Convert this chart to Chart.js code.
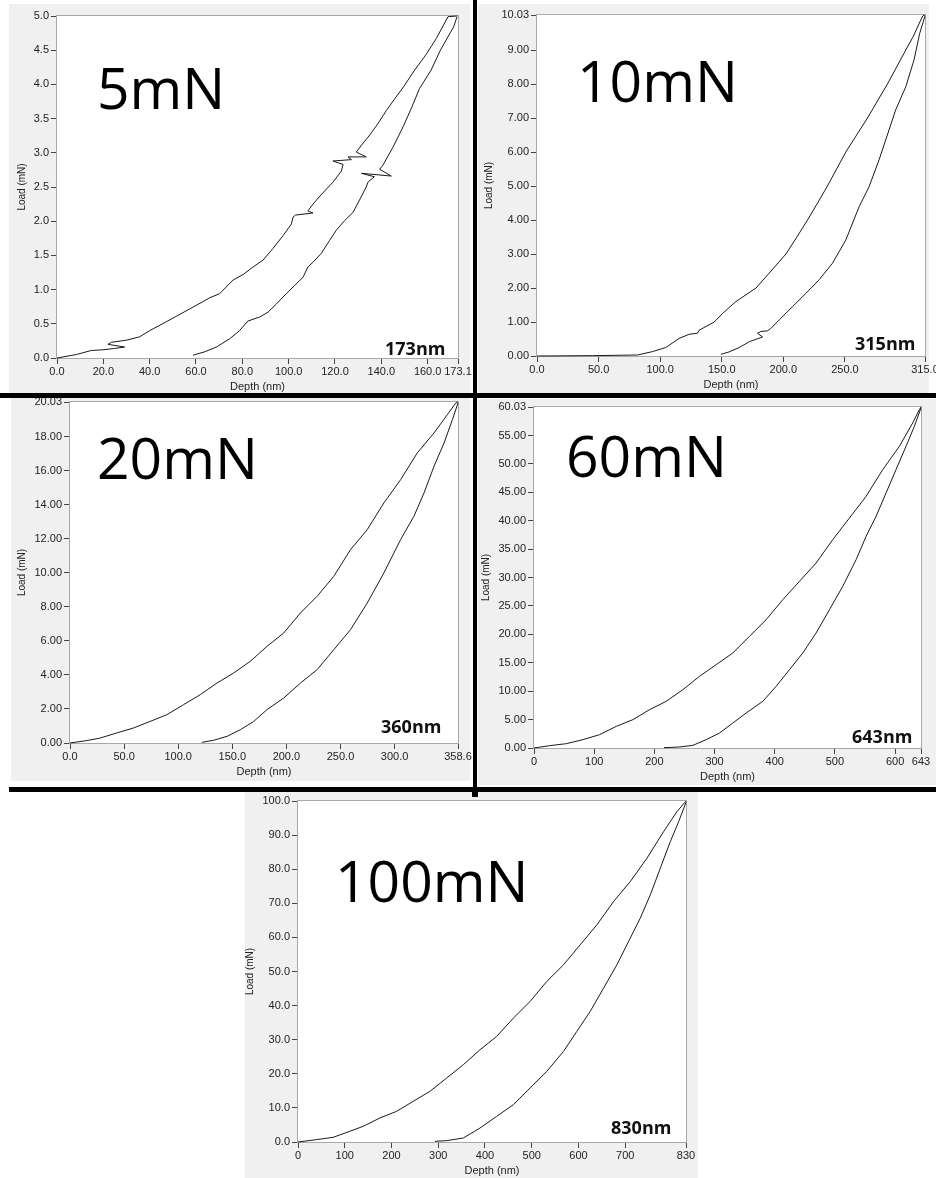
<!DOCTYPE html>
<html>
<head>
<meta charset="utf-8">
<script src="https://cdn.jsdelivr.net/npm/chart.js@4.4.0/dist/chart.umd.min.js"></script>
<style>
body{margin:0;background:#fff;}
#page{position:relative;width:936px;height:1178px;overflow:hidden;}
.panel{position:absolute;background:#f0f0f0;z-index:1;}
.bar{position:absolute;background:#000;z-index:5;}
canvas{position:absolute;z-index:2;}
.big{position:absolute;z-index:3;font-family:'Open Sans';font-size:57px;line-height:57px;color:#000;white-space:nowrap;}
.nm{position:absolute;z-index:3;font-family:'Open Sans';font-weight:bold;font-size:18px;line-height:18px;color:#111;white-space:nowrap;}
</style>
</head>
<body>
<div id="page"></div>
<script>
// ---- data (depth nm, load mN) ----
var depthTicks5 = [0,20,40,60,80,100,120,140,160,173.1];
var loadTicks5 = [0,0.5,1,1.5,2,2.5,3,3.5,4,4.5,5];
var loading5 = [[0,0],[8.3,0.05],[14.8,0.11],[19.9,0.12],[24.9,0.14],[29.2,0.16],[22.0,0.20],[23.5,0.23],[29.9,0.26],[35.7,0.31],[40.0,0.40],[47.2,0.53],[51.5,0.61],[60.1,0.77],[65.9,0.88],[70.2,0.94],[76.0,1.14],[80.3,1.22],[84.6,1.33],[88.9,1.43],[93.2,1.60],[97.6,1.79],[101.2,1.96],[101.9,2.06],[103.0,2.09],[110.5,2.12],[108.3,2.15],[110.5,2.25],[114.1,2.39],[119.1,2.57],[122.7,2.73],[123.5,2.83],[119.1,2.88],[127.1,2.90],[125.6,2.94],[133.5,2.94],[129.2,3.01],[131.4,3.11],[135.0,3.26],[138.6,3.43],[142.2,3.62],[145.8,3.79],[149.5,3.96],[154.4,4.21],[159.4,4.44],[163.7,4.67],[168.8,4.99],[172.7,5.0]];
var unloading5 = [[172.7,4.99],[171.2,4.84],[169.5,4.74],[165.5,4.50],[161.5,4.21],[156.5,3.94],[153.2,3.67],[149.4,3.38],[145.0,3.08],[140.7,2.82],[139.3,2.76],[144.3,2.66],[131.4,2.70],[137.0,2.65],[134.2,2.57],[133.5,2.50],[130.6,2.31],[127.8,2.13],[124.2,2.01],[120.6,1.87],[117.7,1.72],[114.1,1.53],[110.5,1.40],[108.3,1.33],[106.2,1.18],[102.6,1.06],[99.0,0.94],[94.7,0.79],[91.1,0.67],[87.5,0.60],[82.4,0.54],[78.8,0.40],[74.5,0.28],[68.8,0.16],[63.7,0.09],[58.7,0.04]];

var depthTicks10 = [0,50,100,150,200,250,315];
var loadTicks10 = [0,1,2,3,4,5,6,7,8,9,10.03];
var loading10 = [[0,0],[45,0.01],[81.7,0.03],[93.8,0.13],[104.6,0.25],[115.5,0.52],[123.6,0.64],[130.3,0.67],[131.7,0.76],[143.9,1.0],[150.6,1.25],[161.4,1.60],[177.8,2.0],[190.0,2.5],[202.1,3.0],[211.0,3.5],[219.6,4.0],[227.8,4.5],[235.8,5.0],[250.7,6.0],[268.3,7.0],[284.5,8.0],[299.4,9.0],[305.5,9.4],[311.5,9.88],[313.4,10.01],[315,10.03]];
var unloading10 = [[315,10.0],[310.7,9.49],[306.1,8.71],[299.4,7.92],[291.2,7.24],[285.8,6.65],[277.7,5.77],[269.6,4.98],[261.5,4.39],[250.7,3.41],[239.9,2.73],[229.0,2.24],[218.2,1.84],[207.4,1.45],[196.6,1.06],[189.8,0.81],[187.1,0.74],[181.7,0.72],[179.0,0.67],[183.1,0.56],[177.7,0.49],[172.3,0.42],[164.2,0.25],[156.0,0.12],[149.3,0.05]];

var depthTicks20 = [0,50,100,150,200,250,300,358.6];
var loadTicks20 = [0,2,4,6,8,10,12,14,16,18,20.03];
var loading20 = [[0,0],[15.4,0.14],[27.8,0.29],[43.2,0.59],[58.6,0.88],[74.1,1.27],[89.5,1.66],[104.9,2.25],[120.4,2.84],[135.8,3.52],[151.2,4.11],[166.7,4.80],[182.1,5.68],[197.5,6.46],[213.0,7.64],[228.4,8.62],[243.8,9.79],[259.3,11.36],[274.7,12.53],[290.1,14.10],[305.6,15.47],[321.0,17.04],[336.4,18.21],[348.8,19.29],[356.5,19.97],[358.6,20.03]];
var unloading20 = [[358.6,19.97],[353.4,18.99],[345.7,17.62],[336.4,16.25],[327.2,14.69],[317.9,13.32],[305.6,11.95],[290.1,9.99],[274.7,8.22],[259.3,6.66],[243.8,5.48],[228.4,4.31],[213.0,3.52],[197.5,2.64],[182.1,1.96],[169.8,1.27],[157.4,0.78],[145.1,0.39],[132.7,0.16],[121.9,0.04]];

var depthTicks60 = [0,100,200,300,400,500,600,643];
var loadTicks60 = [0,5,10,15,20,25,30,35,40,45,50,55,60.03];
var loading60 = [[0,0],[26,0.41],[53.7,0.76],[81.3,1.47],[109,2.35],[136.7,3.81],[164.4,4.99],[192,6.75],[219.7,8.22],[247.4,10.27],[275,12.62],[302.7,14.67],[330.4,16.73],[358,19.66],[385.7,22.59],[413.4,26.11],[441.1,29.34],[468.7,32.57],[496.4,36.68],[524.1,40.49],[551.8,44.31],[579.4,49.0],[607.1,53.11],[629.2,57.22],[640.3,59.56],[643,60.03]];
var unloading60 = [[643,59.86],[632,56.63],[618.1,53.11],[601.5,49.0],[584.9,44.89],[568.4,40.79],[551.8,37.27],[535.2,33.16],[513.0,28.46],[490.9,24.35],[468.7,20.25],[446.6,16.73],[424.5,13.79],[402.3,10.86],[380.2,8.22],[352.5,6.16],[330.4,4.40],[308.3,2.64],[286.1,1.47],[264,0.47],[241.8,0.18],[216,0.06]];

var depthTicks100 = [0,100,200,300,400,500,600,700,830];
var loadTicks100 = [0,10,20,30,40,50,60,70,80,90,100];
var loading100 = [[0,0],[39.3,0.68],[75,1.37],[110.7,3.13],[139.3,4.59],[175,7.03],[210.7,8.98],[246.4,11.91],[282.1,14.84],[317.9,18.75],[353.6,22.66],[389.3,27.05],[425,30.96],[460.7,36.33],[496.4,41.21],[532.1,47.07],[567.9,51.95],[603.6,57.81],[639.3,63.67],[675,70.51],[710.7,76.37],[746.4,83.2],[782.1,91.02],[810.7,96.88],[830,100]];
var unloading100 = [[830,99.6],[814.3,93.95],[796.4,88.09],[775,80.27],[753.6,72.46],[732.1,65.63],[710.7,59.77],[682.1,51.95],[653.6,45.12],[625,38.28],[596.4,32.42],[567.9,26.56],[532.1,20.7],[496.4,15.82],[460.7,10.94],[425,7.52],[389.3,4.1],[353.6,1.17],[317.9,0.39],[292.9,0.2]];

var page = document.getElementById('page');

function box(cls, x, y, w, h) {
	var d = document.createElement('div');
	d.className = cls;
	d.style.left = x + 'px'; d.style.top = y + 'px';
	d.style.width = w + 'px'; d.style.height = h + 'px';
	page.appendChild(d);
	return d;
}
function label(cls, text, x, baseline, drop) {
	var d = document.createElement('div');
	d.className = cls;
	d.textContent = text;
	d.style.left = x + 'px';
	d.style.top = (baseline - drop) + 'px';
	page.appendChild(d);
}

var frame = {
	id: 'frame',
	beforeDatasetsDraw: function(chart) {
		var a = chart.chartArea, c = chart.ctx;
		c.save();
		c.fillStyle = '#fff';
		c.fillRect(a.left, a.top, a.right - a.left, a.bottom - a.top);
		c.strokeStyle = '#a8a8a8';
		c.lineWidth = 1;
		c.strokeRect(a.left - 0.5, a.top - 0.5, a.right - a.left + 1, a.bottom - a.top + 1);
		c.restore();
	}
};

var AW = 60, PT = 14, PR = 26, AH = 40;
var tickFont = {family: 'Liberation Sans', size: 11};
var loadFont = {family: 'Liberation Sans', size: 10};

function makeChart(p) {
	var cv = document.createElement('canvas');
	var w = p.R - p.L + AW + PR, h = p.B - p.T + PT + AH;
	cv.width = w; cv.height = h;
	cv.style.left = (p.L - AW) + 'px'; cv.style.top = (p.T - PT) + 'px';
	cv.style.width = w + 'px'; cv.style.height = h + 'px';
	page.appendChild(cv);

	var line = function(pts) {
		return {
			data: pts.map(function(q){ return {x: q[0], y: q[1]}; }),
			showLine: true, borderColor: '#1a1a1a', borderWidth: 1,
			pointRadius: 0, tension: 0, clip: 3
		};
	};

	new Chart(cv.getContext('2d'), {
		type: 'scatter',
		data: {datasets: [line(p.loading), line(p.unloading)]},
		options: {
			responsive: false, animation: false, events: [],
			layout: {padding: {left: 0, top: PT, right: PR, bottom: 0}},
			plugins: {legend: {display: false}, tooltip: {enabled: false}},
			scales: {
				x: {
					type: 'linear', min: 0, max: p.xt[p.xt.length - 1],
					afterBuildTicks: function(s){ s.ticks = p.xt.map(function(v){ return {value: v}; }); },
					afterFit: function(s){ s.height = AH; },
					ticks: {autoSkip: false, maxRotation: 0, padding: 1, color: '#222', font: tickFont,
						callback: function(v){ return Number(v).toFixed(p.xd); }},
					grid: {drawOnChartArea: false, tickLength: 6, color: '#444'},
					border: {display: false},
					title: {display: true, text: 'Depth (nm)', color: '#222', font: tickFont, padding: {top: 0, bottom: 4}}
				},
				y: {
					type: 'linear', min: 0, max: p.yt[p.yt.length - 1],
					afterBuildTicks: function(s){ s.ticks = p.yt.map(function(v){ return {value: v}; }); },
					afterFit: function(s){ s.width = AW; },
					ticks: {autoSkip: false, padding: 2, color: '#222', font: tickFont,
						callback: function(v){ return Number(v).toFixed(p.yd); }},
					grid: {drawOnChartArea: false, tickLength: 6, color: '#444'},
					border: {display: false},
					title: {display: true, text: 'Load (mN)', color: '#222', font: loadFont, padding: {top: p.tp, bottom: 0}}
				}
			}
		},
		plugins: [frame]
	});
}

// grey panels
box('panel', 9, 4, 461, 389);
box('panel', 478, 4, 451, 390);
box('panel', 11, 398, 459, 383);
box('panel', 478, 399, 458, 386);
box('panel', 245, 792, 453, 386);

makeChart({L: 57, R: 458, T: 16, B: 358, xt: depthTicks5, xd: 1, yt: loadTicks5, yd: 1, loading: loading5, unloading: unloading5, tp: 19});
makeChart({L: 537, R: 925, T: 15, B: 356, xt: depthTicks10, xd: 1, yt: loadTicks10, yd: 2, loading: loading10, unloading: unloading10, tp: 6});
makeChart({L: 70, R: 458, T: 402, B: 743, xt: depthTicks20, xd: 1, yt: loadTicks20, yd: 2, loading: loading20, unloading: unloading20, tp: 6});
makeChart({L: 534, R: 921, T: 407, B: 748, xt: depthTicks60, xd: 0, yt: loadTicks60, yd: 2, loading: loading60, unloading: unloading60, tp: 6});
makeChart({L: 298, R: 686, T: 801, B: 1142, xt: depthTicks100, xd: 0, yt: loadTicks100, yd: 1, loading: loading100, unloading: unloading100, tp: 6});

// big load labels and depth notes
label('big', '5mN', 97, 110, 51);
label('big', '10mN', 577, 103, 51);
label('big', '20mN', 97, 480, 51);
label('big', '60mN', 566, 478, 51);
label('big', '100mN', 335, 903, 51);
label('nm', '173nm', 385, 355, 16);
label('nm', '315nm', 855, 350, 16);
label('nm', '360nm', 381, 733, 16);
label('nm', '643nm', 852, 743, 16);
label('nm', '830nm', 611, 1134, 16);

// black separators
box('bar', 473, 0, 4, 792);
box('bar', 472, 790, 6, 7);
box('bar', 0, 393, 936, 5);
box('bar', 9, 787, 927, 5);
</script>
</body>
</html>
